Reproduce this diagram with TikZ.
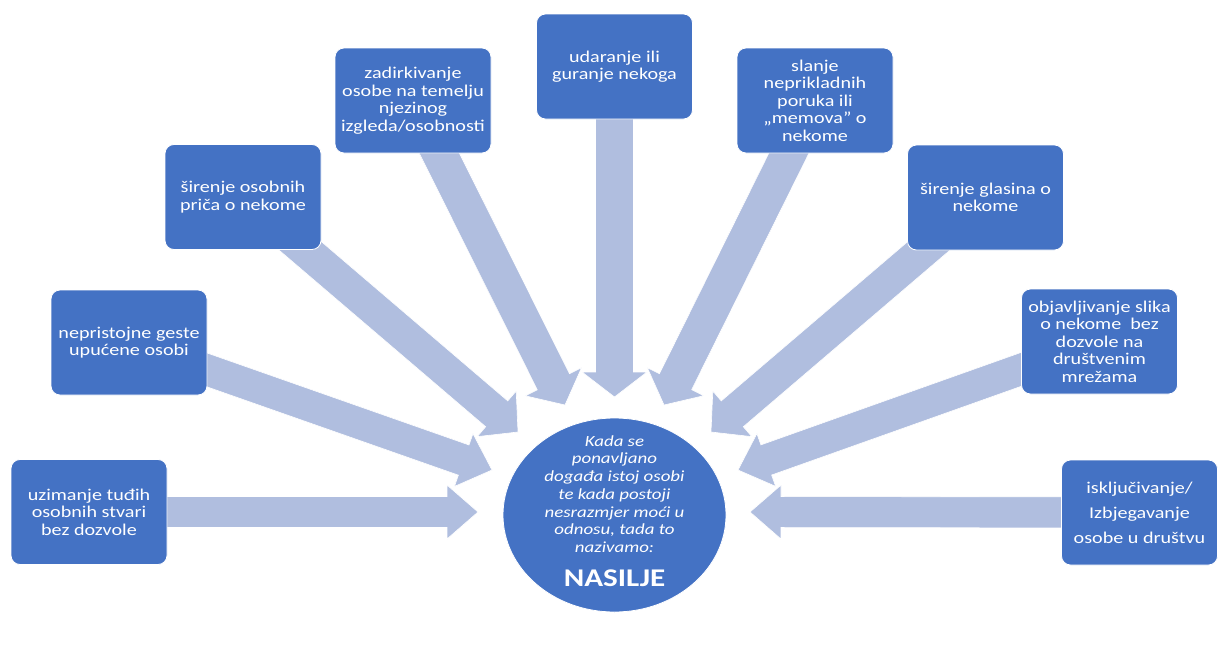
\documentclass[tikz,border=0pt]{standalone}
\usepackage{fontspec}
\setmainfont{Carlito}[FakeStretch=1.22]
\usetikzlibrary{calc,shapes.geometric}
\pgfdeclarelayer{bg}
\pgfsetlayers{bg,main}
\definecolor{boxblue}{HTML}{4472C4}
\definecolor{arrowfill}{HTML}{B0BEDF}
\tikzset{
  itembox/.style={rectangle, rounded corners=9pt, fill=boxblue, draw=white, line width=0.8pt,
    minimum width=156pt, minimum height=105pt, inner sep=0pt, text=white, align=center,
    font=\fontsize{16.5}{17.5}\selectfont},
  centreshape/.style={ellipse, fill=boxblue, draw=white, line width=0.8pt,
    minimum width=223pt, minimum height=194pt, inner sep=0pt},
  centretext/.style={text=white, align=center, inner sep=0pt,
    font=\fontsize{15.5}{17.7}\selectfont\itshape},
  bigword/.style={text=white, inner sep=0pt, font=\fontsize{25.5}{28}\selectfont\bfseries},
  blockarrow/.style={fill=arrowfill, draw=white, line width=0.6pt}
}
% #1 name, #2 start node, #3 tip coordinate, #4 half shaft, #5 half head, #6 head length
\newcommand\blockarr[6]{%
  \coordinate (#1-b) at ($(#3)!#6!(#2.center)$);
  \path[blockarrow]
    ($(#2.center)!#4!90:(#3)$) -- ($(#1-b)!#4!90:(#3)$) -- ($(#1-b)!#5!90:(#3)$) --
    (#3) -- ($(#1-b)!#5!-90:(#3)$) -- ($(#1-b)!#4!-90:(#3)$) --
    ($(#2.center)!#4!-90:(#3)$) -- cycle;
}
\begin{document}
\begin{tikzpicture}[x=1pt,y=-1pt]
\useasboundingbox (0,0) rectangle (1224,653);

\node[itembox] (b1) at (89,512) {uzimanje tuđih\\osobnih stvari\\bez dozvole};
\node[itembox] (b2) at (129,342.5) {nepristojne geste\\upućene osobi};
\node[itembox] (b3) at (243,197) {širenje osobnih\\priča o nekome};
\node[itembox] (b4) at (413,100.5) {zadirkivanje\\osobe na temelju\\njezinog\\izgleda/osobnosti};
\node[itembox] (b5) at (614.5,66.5) {udaranje ili\\guranje nekoga};
\node[itembox] (b6) at (815,100.5) {slanje\\neprikladnih\\poruka ili\\„memova” o\\nekome};
\node[itembox] (b7) at (985.5,197.5) {širenje glasina o\\nekome};
\node[itembox] (b8) at (1099.5,341.5) {objavljivanje slika\\o nekome\ \ bez\\dozvole na\\društvenim\\mrežama};
\node[itembox, font=\fontsize{16.5}{25}\selectfont] (b9) at (1139.5,512.5) {isključivanje/\\Izbjegavanje\\osobe u društvu};

\node[centreshape] (c) at (614.5,515) {};
\node[centretext] (ct) at (614.5,494) {Kada se\\ponavljano\\događa istoj osobi\\te kada postoji\\nesrazmjer moći u\\odnosu, tada to\\nazivamo:};
\node[bigword] (nas) at (614.5,578) {NASILJE};

\coordinate (t1) at (478,512);
\coordinate (t2) at (492,470);
\coordinate (t3) at (518,432);
\coordinate (t4) at (565,405);
\coordinate (t5) at (614.5,397);
\coordinate (t6) at (664,405);
\coordinate (t7) at (711,432);
\coordinate (t8) at (738,470);
\coordinate (t9) at (750,512);

\begin{pgfonlayer}{bg}
\fill[white] (0,0) rectangle (1224,653);
\blockarr{a1}{b1}{t1}{15.5pt}{27pt}{31pt}
\blockarr{a2}{b2}{t2}{16pt}{28pt}{30pt}
\blockarr{a3}{b3}{t3}{17pt}{30pt}{28pt}
\blockarr{a4}{b4}{t4}{18pt}{31.5pt}{26pt}
\blockarr{a5}{b5}{t5}{19pt}{32.5pt}{25pt}
\blockarr{a6}{b6}{t6}{18pt}{31.5pt}{26pt}
\blockarr{a7}{b7}{t7}{17pt}{30pt}{28pt}
\blockarr{a8}{b8}{t8}{16pt}{28pt}{30pt}
\blockarr{a9}{b9}{t9}{15.5pt}{27pt}{31pt}
\end{pgfonlayer}
\end{tikzpicture}
\end{document}
